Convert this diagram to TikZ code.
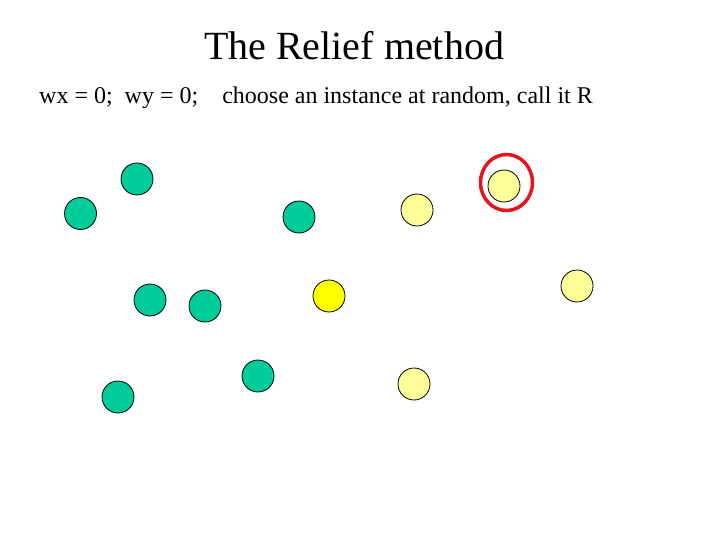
\documentclass[tikz,border=0pt]{standalone}
\usepackage{fontspec}
\setmainfont{Liberation Serif}
\usetikzlibrary{shapes.geometric}
\definecolor{ptgreen}{HTML}{00CC99}
\definecolor{ptlight}{HTML}{FFFF99}
\definecolor{ptyellow}{HTML}{FFFF00}
\definecolor{ptred}{HTML}{E8141C}
\begin{document}
\begin{tikzpicture}[x=1pt,y=-1pt,
  gdot/.style={circle,draw=black,fill=ptgreen,minimum size=32pt,inner sep=0pt,line width=0.8pt},
  ldot/.style={circle,draw=black,fill=ptlight,minimum size=32pt,inner sep=0pt,line width=0.8pt},
  ydot/.style={circle,draw=black,fill=ptyellow,minimum size=32pt,inner sep=0pt,line width=0.8pt},
  txt/.style={inner sep=0pt,anchor=base west}]
\useasboundingbox (0,0) rectangle (720,540);
\node[inner sep=0pt,anchor=base,font=\fontsize{40}{44}\selectfont] (title) at (354,60) {The Relief method};
\node[txt,font=\fontsize{24}{28}\selectfont] (line) at (39,104) {wx = 0;\ \ wy = 0;\ \ \ \ choose an instance at random, call it R};
\node[gdot] (g1) at (137,179) {};
\node[gdot] (g2) at (80.5,213.5) {};
\node[gdot] (g3) at (299,217) {};
\node[gdot] (g4) at (150,300) {};
\node[gdot] (g5) at (205,306) {};
\node[gdot] (g6) at (258,376) {};
\node[gdot] (g7) at (118,397) {};
\node[ldot] (l1) at (417,210) {};
\node[ldot] (r) at (504,186) {};
\node[ldot] (l3) at (577,286) {};
\node[ldot] (l4) at (414,384) {};
\node[ydot] (y1) at (329,296) {};
\node[ellipse,draw=ptred,line width=3.5pt,minimum width=52pt,minimum height=56pt,inner sep=0pt] (ring) at (506.5,182.5) {};
\end{tikzpicture}
\end{document}
